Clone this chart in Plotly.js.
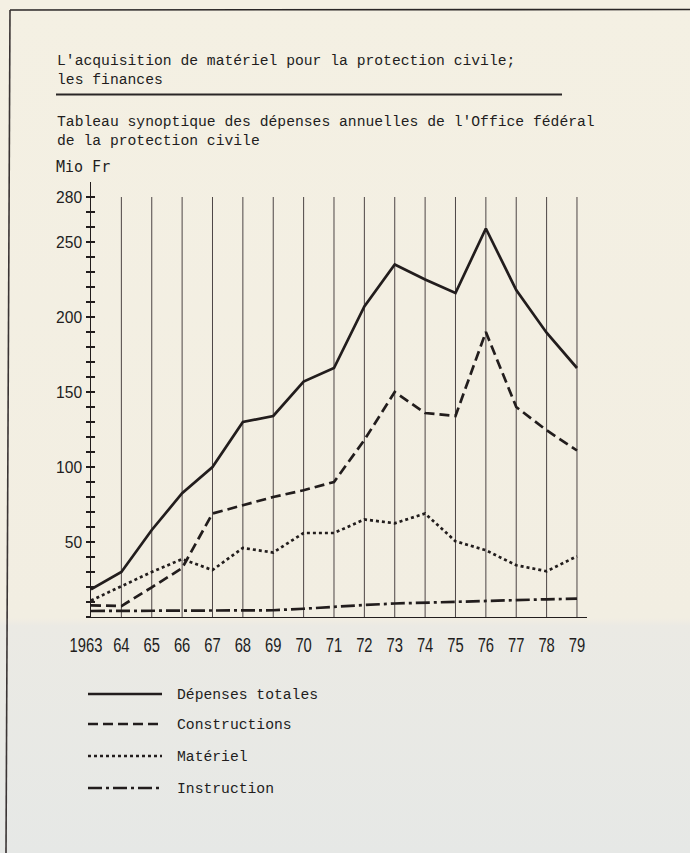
<!DOCTYPE html>
<html>
<head>
<meta charset="utf-8">
<script src="https://cdn.plot.ly/plotly-3.0.1.min.js"></script>
<style>
  html, body { margin: 0; padding: 0; }
  body {
    width: 690px; height: 853px; overflow: hidden;
    background: linear-gradient(to bottom, #f4f0e3 0px, #f2eee2 618px, #ebeae4 626px, #e6e8e6 853px);
  }
  #chart { width: 690px; height: 853px; }
</style>
</head>
<body>
<div id="chart"></div>
<script>
// ---- data ----
const years = [1963,1964,1965,1966,1967,1968,1969,1970,1971,1972,1973,1974,1975,1976,1977,1978,1979];
const yearLabels = ['1963','64','65','66','67','68','69','70','71','72','73','74','75','76','77','78','79'];
const total        = [18.4, 30, 58, 82.5, 100, 130, 134, 157, 166, 207, 235, 225, 216, 259, 218, 189.5, 166];
const constructions= [7.8, 7.3, 19.8, 32.6, 69, 74.5, 80, 84.5, 90, 118, 150, 136, 134, 190, 140, 124.5, 111];
const materiel     = [11, 20.4, 30, 38.6, 31.3, 46, 43, 56, 56, 65, 62.5, 69, 50.5, 44.5, 34.5, 30.5, 40.5];
const instruction  = [4, 4, 4, 4, 4, 4.3, 4.5, 5.5, 7, 8, 9, 9.6, 10.4, 11, 11.4, 11.8, 12.2];
const seriesNames  = ['Dépenses totales', 'Constructions', 'Matériel', 'Instruction'];
const yLabelVals   = [50, 100, 150, 200, 250, 280];

const titleLines = ["L'acquisition de matériel pour la protection civile;", "les finances"];
const subtitleLines = ["Tableau synoptique des dépenses annuelles de l'Office fédéral", "de la protection civile"];
const unitLabel = 'Mio Fr';

// ---- styling ----
const ink = '#221d1d';
const typeFont = 'Liberation Mono, Courier New, monospace';
const plotFont = 'Liberation Sans, Arial, sans-serif';
const unitFont = 'DejaVu Sans Mono, monospace';
const dashes = ['solid', '10px,5px', '3px,3px', '14px,4px,3px,4px'];
const seriesData = [total, constructions, materiel, instruction];

// plot area in pixels
const L = 91, R = 587, T = 182, B = 617;
const px = x => (x - L) / (R - L);
const py = y => (B - y) / (B - T);

const traces = seriesData.map((vals, i) => ({
  x: years, y: vals, type: 'scatter', mode: 'lines', name: seriesNames[i],
  line: { color: ink, width: 2.7, dash: dashes[i] },
  showlegend: false, hoverinfo: 'skip'
}));

// tick positions every 10
const tickPos = [];
for (let v = 0; v <= 280; v += 10) tickPos.push(v);
const tickTxt = tickPos.map(v => yLabelVals.includes(v) ? String(v) : '');

// helper trace on y2 for inward ticks (crossing ticks)
traces.push({ x: [years[0]], y: [0], yaxis: 'y2', type: 'scatter', mode: 'markers',
  marker: { opacity: 0 }, showlegend: false, hoverinfo: 'skip' });

const shapes = [];
// vertical grid lines at each year
years.slice(1).forEach(yr => shapes.push({
  type: 'line', xref: 'x', yref: 'y', x0: yr, x1: yr, y0: 0, y1: 280,
  line: { color: '#4d4545', width: 1 }, layer: 'below'
}));
// page frame
shapes.push({ type: 'line', xref: 'paper', yref: 'paper', x0: px(10), x1: px(690), y0: py(10), y1: py(9.5),
  line: { color: '#2a2626', width: 1.6 } });
shapes.push({ type: 'line', xref: 'paper', yref: 'paper', x0: px(10), x1: px(6), y0: py(10), y1: py(853),
  line: { color: '#3a3434', width: 1.6 } });
// title underline
shapes.push({ type: 'line', xref: 'paper', yref: 'paper', x0: px(56), x1: px(562), y0: py(94.5), y1: py(94.5),
  line: { color: '#2a2626', width: 2.2 } });

const annotations = [];
const addText = (t, x, y, font) => annotations.push({
  text: t, xref: 'paper', yref: 'paper', x: px(x), y: py(y), xanchor: 'left', yanchor: 'middle',
  showarrow: false, font: font
});
const tf = { family: typeFont, size: 14.7, color: ink };
addText(titleLines[0], 55, 61, tf);
addText(titleLines[1], 55, 79.5, tf);
addText(subtitleLines[0], 55, 122, tf);
addText(subtitleLines[1], 55, 141, tf);
addText(unitLabel, 54, 167, { family: unitFont, size: 15, color: ink });

// legend
const legY = [694, 724, 756, 788];
seriesNames.forEach((n, i) => {
  shapes.push({ type: 'line', xref: 'paper', yref: 'paper', x0: px(88), x1: px(162), y0: py(legY[i]), y1: py(legY[i]),
    line: { color: ink, width: 2.7, dash: dashes[i] } });
  addText(n, 175, legY[i] + 1, tf);
});

const layout = {
  width: 690, height: 853,
  margin: { l: L, r: 690 - R, t: T, b: 853 - B, pad: 0 },
  paper_bgcolor: 'rgba(0,0,0,0)', plot_bgcolor: 'rgba(0,0,0,0)',
  showlegend: false,
  xaxis: {
    range: [1963, 1979.33], showgrid: false, zeroline: false,
    showline: true, linecolor: ink, linewidth: 1.4,
    tickmode: 'array', tickvals: years, ticktext: yearLabels, ticks: '', tickangle: 0,
    tickfont: { family: plotFont, size: 20.5, color: ink }, ticklabelstandoff: 9
  },
  yaxis: {
    range: [0, 290], showgrid: false, zeroline: false,
    showline: true, linecolor: ink, linewidth: 1.4,
    tickmode: 'array', tickvals: tickPos, ticktext: tickTxt,
    ticks: 'outside', ticklen: 4, tickwidth: 1.4, tickcolor: ink,
    tickfont: { family: plotFont, size: 17, color: ink }
  },
  yaxis2: {
    overlaying: 'y', side: 'left', range: [0, 290], showgrid: false, zeroline: false,
    showline: false, tickmode: 'array', tickvals: tickPos, showticklabels: false,
    ticks: 'inside', ticklen: 4, tickwidth: 1.4, tickcolor: ink
  },
  shapes: shapes,
  annotations: annotations
};

Plotly.newPlot('chart', traces, layout, { staticPlot: true, displayModeBar: false }).then(gd => {
  // condense the plotter-style tick labels horizontally (narrow, tall digits)
  const condense = (sel, sx, shiftFirst) => {
    gd.querySelectorAll(sel).forEach((t, i) => {
      const x = parseFloat(t.getAttribute('x')) || 0;
      const tr = t.getAttribute('transform') || '';
      const dx = (i === 0 && shiftFirst) ? shiftFirst : 0;
      t.setAttribute('transform', `${tr} translate(${x + dx},0) scale(${sx},1) translate(${-x},0)`);
    });
  };
  condense('.xaxislayer-above .xtick text', 0.72, -5);
  condense('.yaxislayer-above .ytick text', 0.92, 0);
});
</script>
</body>
</html>
